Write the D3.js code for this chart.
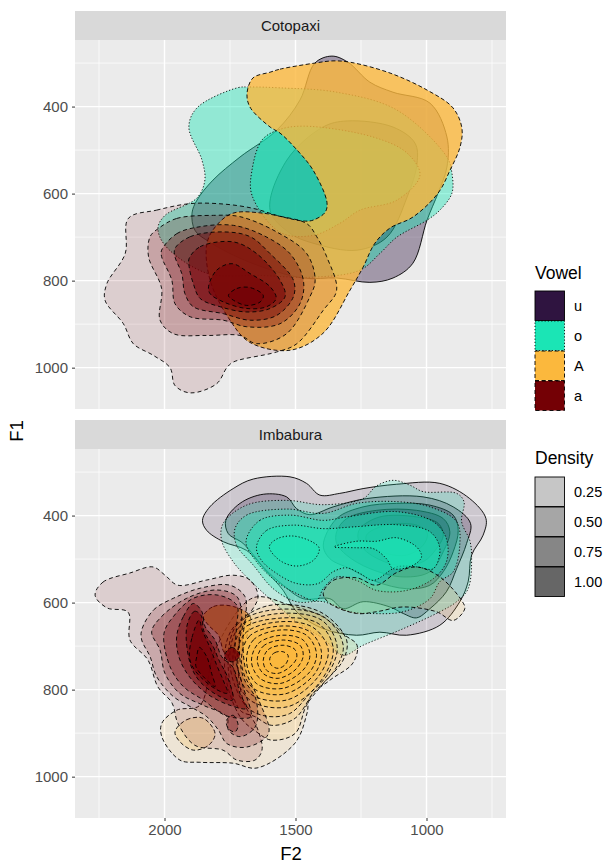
<!DOCTYPE html>
<html>
<head>
<meta charset="utf-8">
<script src="https://cdn.jsdelivr.net/npm/d3@7"></script>
<style>
body { margin: 0; background: white; }
text { font-family: "Liberation Sans", Helvetica, Arial, sans-serif; }
</style>
</head>
<body>
<svg id="chart" width="606" height="864"></svg>
<script>
// contour outlines, pairs are [F2, F1]
const cotoU = [
  [[1426,300],[1361,284],[1300,298],[1216,344],[1128,367],[987,392],[922,470],[922,539],[956,599],[998,661],[1052,760],[1128,794],[1216,804],[1342,794],[1471,794],[1674,758],[1826,712],[1884,684],[1895,645],[1876,615],[1815,569],[1712,516],[1571,454],[1483,385]],
  [[1395,447],[1303,433],[1128,447],[1044,484],[1036,530],[1074,608],[1151,700],[1265,730],[1433,714],[1521,691],[1597,638],[1533,523]]
];
const cotoO = [
  [[1723,357],[1674,355],[1559,357],[1342,367],[1113,408],[922,516],[903,553],[903,599],[949,638],[998,661],[1113,700],[1177,737],[1254,776],[1433,792],[1636,788],[1838,783],[1998,719],[2025,679],[1998,650],[1876,610],[1846,569],[1857,523],[1907,447],[1876,403]],
  [[1471,445],[1204,470],[1074,507],[1025,558],[1113,615],[1254,638],[1330,668],[1433,696],[1559,689],[1666,604],[1666,546],[1628,477],[1567,454]]
];
const cotoA = [
  [[1597,321],[1559,314],[1426,300],[1357,295],[1292,298],[1139,323],[998,362],[899,403],[865,449],[872,493],[910,546],[956,599],[1052,654],[1139,679],[1197,714],[1242,769],[1292,822],[1395,921],[1521,960],[1674,942],[1750,891],[1826,799],[1838,714],[1800,672],[1739,645],[1624,645],[1471,663],[1433,661],[1387,643],[1380,620],[1433,546],[1494,500],[1559,461],[1597,447],[1674,401],[1685,369],[1662,334]]
];
const cotoLa = [
  [[2138,657],[2030,638],[1902,623],[1775,624],[1661,634],[1572,650],[1457,669],[1419,699],[1381,745],[1343,822],[1394,868],[1495,945],[1572,964],[1737,987],[1762,1000],[1801,1037],[1902,1058],[1960,1041],[1979,1000],[2042,972],[2119,945],[2157,899],[2227,845],[2220,807],[2150,738]],
  [[2023,680],[1953,657],[1813,650],[1712,653],[1572,688],[1457,738],[1425,799],[1445,837],[1534,922],[1648,945],[1712,926],[1839,926],[1966,922],[2017,891],[2011,818],[2061,745],[2055,699]],
  [[2011,730],[1953,692],[1864,676],[1737,673],[1623,696],[1521,738],[1470,799],[1483,853],[1559,899],[1686,906],[1775,891],[1902,883],[1960,853],[1972,799],[2011,745]],
  [[1960,726],[1902,699],[1775,688],[1673,699],[1597,738],[1508,799],[1508,837],[1572,880],[1673,891],[1775,876],[1890,860],[1922,830],[1934,784],[1960,745]],
  [[1906,749],[1864,722],[1737,711],[1648,738],[1559,799],[1540,837],[1597,864],[1686,872],[1788,860],[1864,841],[1890,807],[1906,768]],
  [[1832,814],[1801,776],[1743,761],[1673,784],[1597,814],[1574,841],[1610,860],[1686,864],[1775,849],[1826,830]],
  [[1756,834],[1724,818],[1673,816],[1623,834],[1635,849],[1686,857],[1737,845]]
];
const imbaU = [
  [[1855,411],[1839,434],[1776,460],[1687,480],[1610,529],[1547,572],[1496,621],[1394,660],[1267,675],[1178,668],[1076,675],[949,652],[873,598],[841,552],[828,491],[784,445],[773,407],[835,361],[949,326],[1114,328],[1242,338],[1331,349],[1407,353],[1458,326],[1521,311],[1661,316],[1738,338],[1827,380]],
  [[1766,411],[1712,372],[1623,351],[1534,357],[1496,384],[1445,398],[1356,380],[1229,361],[1013,357],[898,380],[832,418],[847,464],[885,522],[924,575],[987,614],[1038,635],[1089,625],[1140,610],[1242,598],[1318,614],[1369,591],[1471,591],[1547,560],[1617,522],[1700,464],[1757,441]],
  [[1394,468],[1343,407],[1242,380],[1114,372],[987,376],[898,399],[879,434],[898,483],[936,529],[987,560],[1076,568],[1191,552],[1292,522],[1369,499]],
  [[1343,437],[1305,407],[1191,388],[1038,388],[936,407],[911,437],[936,483],[987,529],[1089,541],[1216,522],[1305,491],[1343,464]],
  [[1254,430],[1178,403],[1038,403],[955,418],[936,445],[962,476],[1013,506],[1114,514],[1229,483],[1261,453]],
  [[1229,445],[1153,422],[1038,422],[997,441],[1013,468],[1076,491],[1153,487],[1222,468]]
];
const imbaO = [
  [[1776,418],[1782,457],[1738,506],[1674,549],[1585,598],[1496,644],[1394,683],[1318,721],[1242,698],[1089,660],[949,621],[885,598],[841,568],[828,491],[835,457],[866,414],[857,368],[885,349],[1013,345],[1064,330],[1127,319],[1191,332],[1242,361],[1394,375],[1534,365],[1687,376]],
  [[1731,430],[1687,399],[1534,385],[1394,395],[1267,372],[1114,368],[987,380],[885,414],[873,468],[898,529],[949,552],[987,591],[1089,621],[1216,625],[1292,621],[1394,598],[1496,598],[1585,568],[1661,514],[1725,468]],
  [[1689,460],[1636,411],[1521,399],[1394,411],[1305,403],[1114,391],[974,414],[924,453],[924,506],[974,545],[1076,572],[1191,572],[1267,549],[1343,541],[1394,568],[1420,595],[1496,579],[1572,552],[1649,506]],
  [[1649,472],[1610,434],[1509,422],[1394,430],[1280,426],[1114,421],[987,437],[949,476],[974,522],[1038,518],[1114,518],[1203,549],[1254,533],[1305,520],[1356,529],[1413,556],[1496,556],[1572,533],[1630,503]],
  [[1600,472],[1572,454],[1509,447],[1432,462],[1409,476],[1432,503],[1496,516],[1560,503]],
  [[1353,472],[1267,459],[1191,459],[1114,451],[1038,472],[1019,495],[1051,514],[1127,522],[1153,499],[1203,476],[1267,474]]
];
const imbaA = [
  [[1662,589],[1521,606],[1395,633],[1311,675],[1265,698],[1281,739],[1368,778],[1445,817],[1456,854],[1502,923],[1647,980],[1739,969],[1865,967],[1941,962],[2010,909],[2010,877],[1952,847],[1865,836],[1807,709]],
  [[1394,579],[1356,549],[1267,543],[1191,560],[1114,531],[1038,518],[949,541],[866,595],[854,614],[898,641],[962,621],[1089,610],[1191,621],[1267,625],[1369,602]],
  [[1960,897],[1915,869],[1852,866],[1807,901],[1832,928],[1890,939],[1941,920]],
  [[1852,632],[1813,609],[1737,609],[1673,632],[1686,678],[1724,724],[1769,717],[1794,675],[1832,652]],
  [[1770,755],[1744,663],[1611,608],[1407,621],[1305,686],[1318,732],[1394,786],[1458,836],[1502,901],[1592,916],[1649,897],[1712,862]],
  [[1757,747],[1725,652],[1592,617],[1394,632],[1318,698],[1350,755],[1433,809],[1502,866],[1592,882],[1655,862],[1712,847]],
  [[1750,744],[1719,659],[1579,626],[1401,640],[1341,701],[1375,763],[1445,809],[1522,855],[1611,861],[1687,839]],
  [[1738,744],[1706,663],[1566,636],[1413,648],[1356,705],[1401,778],[1528,839],[1674,824]],
  [[1723,740],[1693,671],[1560,644],[1433,657],[1375,709],[1413,770],[1534,824],[1674,809]],
  [[1706,740],[1677,678],[1560,654],[1445,667],[1401,713],[1426,763],[1541,810],[1661,797]],
  [[1687,736],[1661,686],[1560,663],[1458,675],[1420,717],[1445,759],[1547,797],[1649,786]],
  [[1668,736],[1642,694],[1553,675],[1471,686],[1445,721],[1471,755],[1560,786],[1636,774]],
  [[1646,732],[1623,700],[1547,686],[1483,698],[1471,724],[1502,755],[1566,774],[1623,763]],
  [[1623,732],[1604,708],[1547,698],[1502,708],[1496,728],[1528,751],[1572,763],[1611,755]],
  [[1598,728],[1579,715],[1547,713],[1528,722],[1537,741],[1566,751],[1592,744]]
];
const imbaLa = [
  [[2265,583],[2235,553],[2132,532],[2044,518],[1998,537],[1949,560],[1838,548],[1739,537],[1674,548],[1643,587],[1700,652],[1720,732],[1700,824],[1643,893],[1628,939],[1655,962],[1723,962],[1777,939],[1884,928],[1949,877],[1971,831],[2025,794],[2063,732],[2132,686],[2139,622],[2220,612]],
  [[2087,663],[2042,617],[1966,590],[1864,567],[1750,560],[1693,586],[1690,632],[1700,678],[1690,755],[1640,824],[1603,901],[1686,932],[1762,924],[1794,893],[1839,862],[1902,839],[1966,816],[2030,770],[2055,724],[2087,686]],
  [[2049,667],[2011,632],[1915,590],[1801,571],[1724,586],[1705,632],[1715,686],[1700,770],[1650,824],[1654,886],[1712,908],[1756,893],[1762,862],[1852,836],[1941,809],[1998,763],[2017,709]],
  [[2002,671],[1966,632],[1890,590],[1794,583],[1724,606],[1725,655],[1730,724],[1700,793],[1670,862],[1699,866],[1769,859],[1852,824],[1928,793],[1979,747]],
  [[1953,675],[1928,632],[1890,602],[1858,620],[1845,655],[1807,686],[1782,724],[1737,750],[1712,809],[1686,843],[1750,836],[1839,809],[1909,767],[1947,721]],
  [[1915,655],[1885,620],[1860,630],[1850,665],[1815,700],[1790,735],[1760,770],[1740,824],[1788,816],[1864,782],[1902,740]],
  [[1763,870],[1738,859],[1719,882],[1731,897],[1757,889]],
  [[1905,724],[1895,680],[1868,640],[1855,665],[1825,705],[1800,745],[1775,780],[1760,808],[1801,800],[1864,770],[1895,745]],
  [[1877,724],[1867,703],[1839,724],[1820,763],[1807,793],[1852,770],[1880,747]],
  [[1771,721],[1743,703],[1712,721],[1737,736],[1762,732]]
];

// density level of each contour
const cotoUlevels = [0.58, 0.75];
const cotoOlevels = [0.65, 1.0];
const cotoAlevels = [1.4];
const cotoLaLevels = [0.04, 0.2, 0.4, 0.6, 0.8, 1.0, 1.2];
const imbaUlevels = [0.12, 0.3, 0.6, 0.9, 1.3, 1.5];
const imbaOlevels = [0.22, 0.45, 0.7, 0.9, 1.1, 1.1];
const imbaAlevels = [0.04, 0.1, 0.25, 1.2, 0.1, 0.2, 0.3, 0.4, 0.5, 0.6, 0.7, 0.8, 0.9, 1.0, 1.1];
const imbaLaLevels = [0.04, 0.15, 0.3, 0.4, 0.7, 0.9, 0.35, 1.0, 1.2, 1.4];

const vowels = ["u", "o", "A", "a"];
const vowelColors = ["#2f1440", "#1be5b5", "#fbb83d", "#740005"];
const vowelDash = ["none", "1.2 2", "4 2.5", "4 3"];
const densityBreaks = [0.25, 0.5, 0.75, 1.0];
const f2Major = [2000, 1500, 1000];
const f2Minor = [2250, 1750, 1250, 750];
const f1Major = [400, 600, 800, 1000];
const f1Minor = [300, 500, 700, 900];

const panels = [
  { name: "Cotopaxi", top: 40, layers: [[cotoU, cotoUlevels], [cotoO, cotoOlevels], [cotoA, cotoAlevels], [cotoLa, cotoLaLevels]] },
  { name: "Imbabura", top: 449, layers: [[imbaU, imbaUlevels], [imbaO, imbaOlevels], [imbaA, imbaAlevels], [imbaLa, imbaLaLevels]] }
];

const svg = d3.select("#chart");
const panelLeft = 75, panelRight = 506, panelH = 369, stripH = 29;

const x = d3.scaleLinear().domain([2341.6, 696.6]).range([panelLeft, panelRight]);
const y = d3.scaleLinear().domain([247, 1095]).range([0, panelH]);
const alpha = d3.scaleLinear().domain([0, 1]).range([0.1, 0.6]);
const fillScale = d3.scaleOrdinal().domain(vowels).range(vowelColors);
const dashScale = d3.scaleOrdinal().domain(vowels).range(vowelDash);

const outline = d3.line().x(d => x(d[0])).y(d => y(d[1])).curve(d3.curveCatmullRomClosed.alpha(0.5));

panels.forEach(p => {
  const g = svg.append("g").attr("transform", `translate(0,${p.top})`);

  g.append("rect").attr("x", panelLeft).attr("y", -stripH)
    .attr("width", panelRight - panelLeft).attr("height", stripH).attr("fill", "#d9d9d9");
  g.append("text").attr("x", (panelLeft + panelRight) / 2).attr("y", -9.5)
    .attr("text-anchor", "middle").attr("font-size", 15).attr("fill", "#1a1a1a").text(p.name);

  g.append("rect").attr("x", panelLeft).attr("y", 0)
    .attr("width", panelRight - panelLeft).attr("height", panelH).attr("fill", "#ebebeb");

  // rejilla
  f2Minor.forEach(v => g.append("line").attr("x1", x(v)).attr("x2", x(v)).attr("y1", 0).attr("y2", panelH).attr("stroke", "white").attr("stroke-width", 0.7));
  f1Minor.forEach(v => g.append("line").attr("x1", panelLeft).attr("x2", panelRight).attr("y1", y(v)).attr("y2", y(v)).attr("stroke", "white").attr("stroke-width", 0.7));
  f2Major.forEach(v => g.append("line").attr("x1", x(v)).attr("x2", x(v)).attr("y1", 0).attr("y2", panelH).attr("stroke", "white").attr("stroke-width", 1.4));
  f1Major.forEach(v => g.append("line").attr("x1", panelLeft).attr("x2", panelRight).attr("y1", y(v)).attr("y2", y(v)).attr("stroke", "white").attr("stroke-width", 1.4));

  // contornos, en orden u, o, A, a
  p.layers.forEach((layer, i) => {
    const vowel = vowels[i];
    layer[0].forEach((pts, j) => {
      g.append("path")
        .attr("d", outline(pts))
        .attr("fill", fillScale(vowel))
        .attr("fill-opacity", alpha(layer[1][j]))
        .attr("stroke", "black")
        .attr("stroke-width", 0.9)
        .attr("stroke-dasharray", dashScale(vowel));
    });
  });

  // Y axis
  const yAxis = d3.axisLeft(y).tickValues(f1Major).tickFormat(d3.format("d")).tickSize(3).tickPadding(4);
  const ya = g.append("g").attr("transform", `translate(${panelLeft},0)`).call(yAxis);
  ya.select(".domain").remove();
  ya.selectAll("line").attr("stroke", "#333333");
  ya.selectAll("text").attr("font-size", 15).attr("fill", "#4d4d4d");
});

// X Axis
const xAxis = d3.axisBottom(x).tickValues(f2Major).tickFormat(d3.format("d")).tickSize(3).tickPadding(3);
const xa = svg.append("g").attr("transform", `translate(0,${449 + panelH})`).call(xAxis);
xa.select(".domain").remove();
xa.selectAll("line").attr("stroke", "#333333");
xa.selectAll("text").attr("font-size", 15).attr("fill", "#4d4d4d");

svg.append("text").attr("x", 291).attr("y", 860).attr("text-anchor", "middle").attr("font-size", 18.5).text("F2");
svg.append("text").attr("transform", "translate(23,431) rotate(-90)").attr("text-anchor", "middle").attr("font-size", 18.5).text("F1");

// leyendas
const keyX = 535, keySize = 29.5;
svg.append("text").attr("x", keyX).attr("y", 279).attr("font-size", 17.5).text("Vowel");
vowels.forEach((v, i) => {
  const ky = 291 + i * 30;
  svg.append("rect").attr("x", keyX).attr("y", ky).attr("width", keySize).attr("height", keySize)
    .attr("fill", fillScale(v)).attr("stroke", "black").attr("stroke-width", 0.9).attr("stroke-dasharray", dashScale(v));
  svg.append("text").attr("x", 574).attr("y", ky + 20).attr("font-size", 14.5).text(v);
});

svg.append("text").attr("x", keyX).attr("y", 464).attr("font-size", 17.5).text("Density");
densityBreaks.forEach((b, i) => {
  const ky = 477 + i * 30;
  svg.append("rect").attr("x", keyX).attr("y", ky).attr("width", keySize).attr("height", keySize)
    .attr("fill", "black").attr("fill-opacity", alpha(b)).attr("stroke", "black").attr("stroke-width", 0.9);
  svg.append("text").attr("x", 574).attr("y", ky + 20).attr("font-size", 14.5).text(d3.format(".2f")(b));
});
</script>
</body>
</html>
